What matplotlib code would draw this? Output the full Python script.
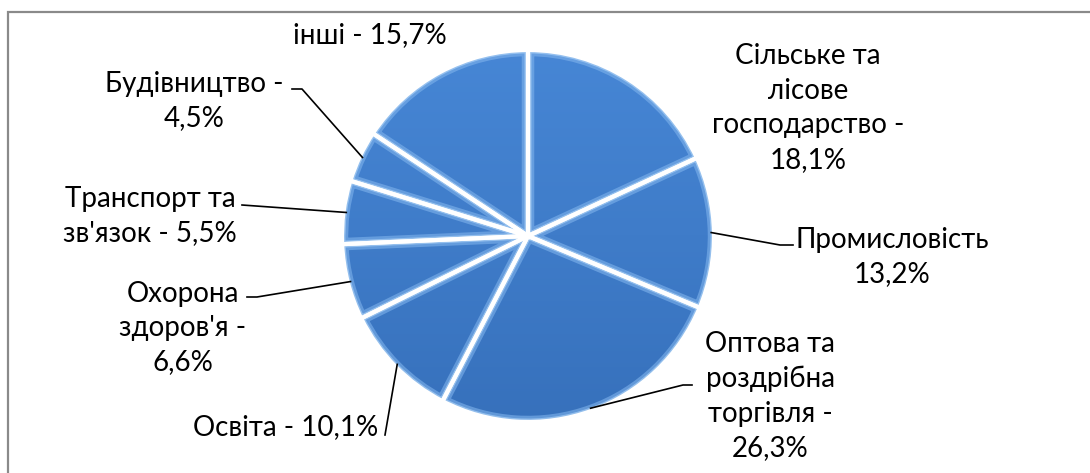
import numpy as np
import matplotlib.pyplot as plt
from matplotlib.colors import LinearSegmentedColormap
from matplotlib.patches import Rectangle, Wedge

plt.rcParams['font.family'] = ['Lato', 'DejaVu Sans']

# Data: sector names (with the line breaks used on the chart) and shares, %
names = ['Сільське та\nлісове\nгосподарство -\n', 'Промисловість\n',
         'Оптова та\nроздрібна\nторгівля -\n', 'Освіта - ',
         "Охорона\nздоров'я -\n", "Транспорт та\nзв'язок - ",
         'Будівництво -\n', 'інші - ']
shares = [18.1, 13.2, 26.3, 10.1, 6.6, 5.5, 4.5, 15.7]

labels = [n + f'{v:.1f}%'.replace('.', ',') for n, v in zip(names, shares)]

W, H = 1090, 473
def Y(y):
    # pixel row (from top) -> data y
    return H - y

# label layout in pixels: text centre, leader elbow, leader end
label_pos = [(808, 108), (892, 257), (770, 396), (286, 427),
             (183, 328), (150, 216), (194, 101), (370, 35)]
leaders = [None, ((780, 245), (793, 245)), ((683, 385), (692, 385)),
           ((385, 435), (385, 435)), ((257, 297), (247, 297)),
           ((242, 205), (242, 205)), ((302, 89), (292, 89)), None]

fig = plt.figure(figsize=(W / 100, H / 100), dpi=100)
ax = fig.add_axes([0, 0, 1, 1])

cx, cy, R = 528, Y(236), 186
wedges, _ = ax.pie(shares, center=(cx, cy), radius=R, explode=[0.022] * len(shares),
                   counterclock=False, startangle=90,
                   colors=['#3f7bc9'] * len(shares), wedgeprops=dict(linewidth=0))

# blue gradient clipped to every slice, light bevel on the rims, white gaps
cmap = LinearSegmentedColormap.from_list('blu', ['#4787d6', '#3f7cc9', '#3670bb'])
grad = np.linspace(0, 1, 256).reshape(-1, 1) * np.ones((1, 8))
ext = [cx - R - 12, cx + R + 12, cy - R - 12, cy + R + 12]
for w in wedges:
    im = ax.imshow(grad, cmap=cmap, extent=ext, origin='upper', aspect='auto',
                   interpolation='bilinear', zorder=2)
    im.set_clip_path(w)
    rim = Wedge(w.center, w.r, w.theta1, w.theta2, facecolor='none',
                edgecolor='#7fb3ec', linewidth=9, alpha=0.6, zorder=3)
    ax.add_patch(rim)
    rim.set_clip_path(w)
    rim2 = Wedge(w.center, w.r, w.theta1, w.theta2, facecolor='none',
                 edgecolor='#a9cff5', linewidth=5, alpha=0.7, zorder=3.2)
    ax.add_patch(rim2)
    rim2.set_clip_path(w)
    ax.add_patch(Wedge(w.center, w.r, w.theta1, w.theta2, facecolor='none',
                       edgecolor='white', linewidth=3, zorder=3.5))

fs = 20
lsp = 39 / (fs * 100 / 72)
for w, lab, (tx, ty), ld in zip(wedges, labels, label_pos, leaders):
    ax.text(tx, Y(ty), lab, ha='center', va='center', multialignment='center',
            fontsize=fs, linespacing=lsp, color='black', zorder=5)
    if ld is None:
        continue
    ang = np.deg2rad((w.theta1 + w.theta2) / 2)
    ax0 = w.center[0] + w.r * 0.985 * np.cos(ang)
    ay0 = w.center[1] + w.r * 0.985 * np.sin(ang)
    (ex, ey), (fx, fy) = ld
    ax.plot([ax0, ex, fx], [ay0, Y(ey), Y(fy)], color='black', lw=1.2, zorder=4)

# chart frame (only top and left edges visible in the crop)
ax.add_patch(Rectangle((8, -50), 1200, Y(12) + 50, facecolor='none',
                       edgecolor='#8a8a8a', linewidth=1.6, zorder=1))

ax.set_xlim(0, W)
ax.set_ylim(0, H)
ax.set_aspect('equal')
ax.axis('off')

fig.savefig('out.png', dpi=100)
